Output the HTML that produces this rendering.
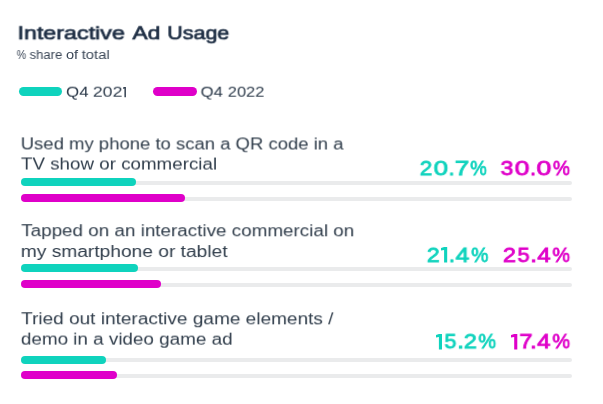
<!DOCTYPE html>
<html><head><meta charset="utf-8">
<style>
html,body{margin:0;padding:0;background:#fff;}
body{width:603px;height:404px;position:relative;overflow:hidden;font-family:"Liberation Sans",sans-serif;color:#2d3b4b;}
.t{position:absolute;white-space:nowrap;transform-origin:0 0;line-height:1;display:block;will-change:transform;}
.title{font-weight:normal;font-size:19.0px;color:#1f2f45;-webkit-text-stroke:0.7px;}
.sub{font-size:12px;color:#3a4656;}
.leg{font-size:15px;color:#2d3b4b;}
.lab{font-size:15.8px;color:#303d4b;}
.val{font-size:21.0px;-webkit-text-stroke:0.8px;}
.c1{color:#0fd3bd;}
.c2{color:#df00c9;}
.pill{position:absolute;border-radius:5px;}
.track{position:absolute;left:20.5px;width:551.5px;height:3.6px;border-radius:2px;background:#eaebec;}
.bar{position:absolute;left:20.5px;height:8px;border-radius:4px;}
.b1{background:#0fd3bd;}
.b2{background:#df00c9;}
</style></head><body>
<div class="t title" id="tw1" style="left:0;top:23px;transform:translate(17.47px,0.27px) rotate(0.02deg) scaleX(1.2245);">Interactive</div>
<div class="t title" id="tw2" style="left:0;top:23px;transform:translate(132.44px,0.27px) rotate(0.02deg) scaleX(1.1986);">Ad</div>
<div class="t title" id="tw3" style="left:0;top:23px;transform:translate(167.31px,0.27px) rotate(0.02deg) scaleX(1.1298);">Usage</div>
<div class="t sub" id="sw1" style="left:0;top:49px;transform:translate(16.74px,0.00px) rotate(0.02deg) scaleX(0.8791);">%</div>
<div class="t sub" id="sw2" style="left:0;top:49px;transform:translate(29.58px,0.00px) rotate(0.02deg) scaleX(1.0880);">share</div>
<div class="t sub" id="sw3" style="left:0;top:49px;transform:translate(66.01px,0.00px) rotate(0.02deg) scaleX(1.2146);">of</div>
<div class="t sub" id="sw4" style="left:0;top:49px;transform:translate(81.70px,0.00px) rotate(0.02deg) scaleX(1.2329);">total</div>
<div class="pill b1" style="left:19px;top:86.5px;width:43.4px;height:9.3px;"></div>
<div class="t leg" id="l1a" style="left:0;top:83px;transform:translate(66.02px,0.70px) rotate(0.02deg) scaleX(1.1254);">Q4</div>
<div class="t leg" id="l1b" style="left:0;top:83px;transform:translate(92.84px,0.70px) rotate(0.02deg) scaleX(1.1826);">202</div>
<svg style="position:absolute;left:122.70px;top:86.55px;overflow:visible" width="2.90" height="10.15" viewBox="0 0 2.90 10.15"><path fill="#2d3b4b" d="M1.45 0H2.90V10.15H1.45V1.38L0 1.81V0.58Z"/></svg>
<div class="pill b2" style="left:153.2px;top:86.5px;width:43.9px;height:9.3px;"></div>
<div class="t leg" id="l2a" style="left:0;top:83px;transform:translate(200.58px,0.70px) rotate(0.02deg) scaleX(1.1154);">Q4</div>
<div class="t leg" id="l2b" style="left:0;top:83px;transform:translate(227.71px,0.70px) rotate(0.02deg) scaleX(1.0997);">2022</div>
<div class="t lab" id="r1a" style="left:0;top:136px;transform:translate(20.72px,0.40px) rotate(0.02deg) scaleX(1.1708);">Used my phone to scan a QR code in a</div>
<div class="t lab" id="r1b" style="left:0;top:156px;transform:translate(20.96px,0.50px) rotate(0.02deg) scaleX(1.1881);">TV show or commercial</div>
<div class="t val c1" id="v1a_0" style="left:0;top:157px;transform:translate(419.75px,0.10px) rotate(0.02deg) scaleX(1.0711);">2</div>
<div class="t val c1" id="v1a_1" style="left:0;top:157px;transform:translate(433.62px,0.10px) rotate(0.02deg) scaleX(1.2372);">0</div>
<div class="t val c1" id="v1a_2" style="left:0;top:157px;transform:translate(448.56px,0.10px) rotate(0.02deg) scaleX(1.0350);">.</div>
<div class="t val c1" id="v1a_3" style="left:0;top:157px;transform:translate(454.72px,0.10px) rotate(0.02deg) scaleX(1.2389);">7</div>
<div class="t val c1" id="v1a_4" style="left:0;top:157px;transform:translate(470.24px,0.10px) rotate(0.02deg) scaleX(0.8859);">%</div>
<div class="t val c2" id="v1b_0" style="left:0;top:157px;transform:translate(500.61px,0.10px) rotate(0.02deg) scaleX(1.1006);">3</div>
<div class="t val c2" id="v1b_1" style="left:0;top:157px;transform:translate(514.70px,0.10px) rotate(0.02deg) scaleX(1.2685);">0</div>
<div class="t val c2" id="v1b_2" style="left:0;top:157px;transform:translate(529.98px,0.10px) rotate(0.02deg) scaleX(1.0450);">.</div>
<div class="t val c2" id="v1b_3" style="left:0;top:157px;transform:translate(536.48px,0.10px) rotate(0.02deg) scaleX(1.2783);">0</div>
<div class="t val c2" id="v1b_4" style="left:0;top:157px;transform:translate(552.89px,0.10px) rotate(0.02deg) scaleX(0.9114);">%</div>
<div class="track" style="top:181.3px;"></div>
<div class="bar b1" style="top:177.9px;width:115.7px;"></div>
<div class="track" style="top:197.2px;"></div>
<div class="bar b2" style="top:193.8px;width:164.4px;"></div>
<div class="t lab" id="r2a" style="left:0;top:223px;transform:translate(21.26px,0.20px) rotate(0.02deg) scaleX(1.1928);">Tapped on an interactive commercial on</div>
<div class="t lab" id="r2b" style="left:0;top:244px;transform:translate(20.78px,0.00px) rotate(0.02deg) scaleX(1.2139);">my smartphone or tablet</div>
<div class="t val c1" id="v2a_0" style="left:0;top:243px;transform:translate(426.85px,0.90px) rotate(0.02deg) scaleX(1.0984);">2</div>
<svg id="v2a_1" style="position:absolute;left:441.05px;top:247.20px;overflow:visible" width="6.20" height="15.5" viewBox="0 0 6.20 15.5"><path fill="#0fd3bd" d="M3.10 0H6.20V15.5H3.10V2.9L0 3.6V1.0Z"/></svg>
<div class="t val c1" id="v2a_2" style="left:0;top:243px;transform:translate(448.83px,0.90px) rotate(0.02deg) scaleX(1.0472);">.</div>
<div class="t val c1" id="v2a_3" style="left:0;top:243px;transform:translate(455.56px,0.90px) rotate(0.02deg) scaleX(1.1721);">4</div>
<div class="t val c1" id="v2a_4" style="left:0;top:243px;transform:translate(471.23px,0.90px) rotate(0.02deg) scaleX(0.9181);">%</div>
<div class="t val c2" id="v2b_0" style="left:0;top:243px;transform:translate(502.88px,0.90px) rotate(0.02deg) scaleX(1.1247);">2</div>
<div class="t val c2" id="v2b_1" style="left:0;top:243px;transform:translate(517.51px,0.90px) rotate(0.02deg) scaleX(1.0409);">5</div>
<div class="t val c2" id="v2b_2" style="left:0;top:243px;transform:translate(530.07px,0.90px) rotate(0.02deg) scaleX(1.2090);">.</div>
<div class="t val c2" id="v2b_3" style="left:0;top:243px;transform:translate(537.22px,0.90px) rotate(0.02deg) scaleX(1.1508);">4</div>
<div class="t val c2" id="v2b_4" style="left:0;top:243px;transform:translate(552.41px,0.90px) rotate(0.02deg) scaleX(0.9385);">%</div>
<div class="track" style="top:267.0px;"></div>
<div class="bar b1" style="top:264.0px;width:117.4px;"></div>
<div class="track" style="top:283.0px;"></div>
<div class="bar b2" style="top:279.9px;width:140.3px;"></div>
<div class="t lab" id="r3a" style="left:0;top:311px;transform:translate(21.15px,0.25px) rotate(0.02deg) scaleX(1.2048);">Tried out interactive game elements /</div>
<div class="t lab" id="r3b" style="left:0;top:331px;transform:translate(20.89px,0.60px) rotate(0.02deg) scaleX(1.1929);">demo in a video game ad</div>
<svg id="v3a_0" style="position:absolute;left:435.95px;top:333.50px;overflow:visible" width="6.00" height="15.5" viewBox="0 0 6.00 15.5"><path fill="#0fd3bd" d="M2.90 0H6.00V15.5H2.90V2.9L0 3.6V1.0Z"/></svg>
<div class="t val c1" id="v3a_1" style="left:0;top:330px;transform:translate(444.46px,0.20px) rotate(0.02deg) scaleX(1.0275);">5</div>
<div class="t val c1" id="v3a_2" style="left:0;top:330px;transform:translate(457.01px,0.20px) rotate(0.02deg) scaleX(1.2279);">.</div>
<div class="t val c1" id="v3a_3" style="left:0;top:330px;transform:translate(463.76px,0.20px) rotate(0.02deg) scaleX(1.1276);">2</div>
<div class="t val c1" id="v3a_4" style="left:0;top:330px;transform:translate(478.38px,0.20px) rotate(0.02deg) scaleX(0.9439);">%</div>
<svg id="v3b_0" style="position:absolute;left:510.95px;top:333.50px;overflow:visible" width="6.30" height="15.5" viewBox="0 0 6.30 15.5"><path fill="#df00c9" d="M3.20 0H6.30V15.5H3.20V2.9L0 3.6V1.0Z"/></svg>
<div class="t val c2" id="v3b_1" style="left:0;top:330px;transform:translate(519.30px,0.20px) rotate(0.02deg) scaleX(1.1359);">7</div>
<div class="t val c2" id="v3b_2" style="left:0;top:330px;transform:translate(529.89px,0.20px) rotate(0.02deg) scaleX(1.2071);">.</div>
<div class="t val c2" id="v3b_3" style="left:0;top:330px;transform:translate(537.03px,0.20px) rotate(0.02deg) scaleX(1.1487);">4</div>
<div class="t val c2" id="v3b_4" style="left:0;top:330px;transform:translate(552.36px,0.20px) rotate(0.02deg) scaleX(0.9468);">%</div>
<div class="track" style="top:358.3px;"></div>
<div class="bar b1" style="top:355.6px;width:85.5px;"></div>
<div class="track" style="top:374.0px;"></div>
<div class="bar b2" style="top:371.4px;width:96.9px;"></div>
</body></html>
